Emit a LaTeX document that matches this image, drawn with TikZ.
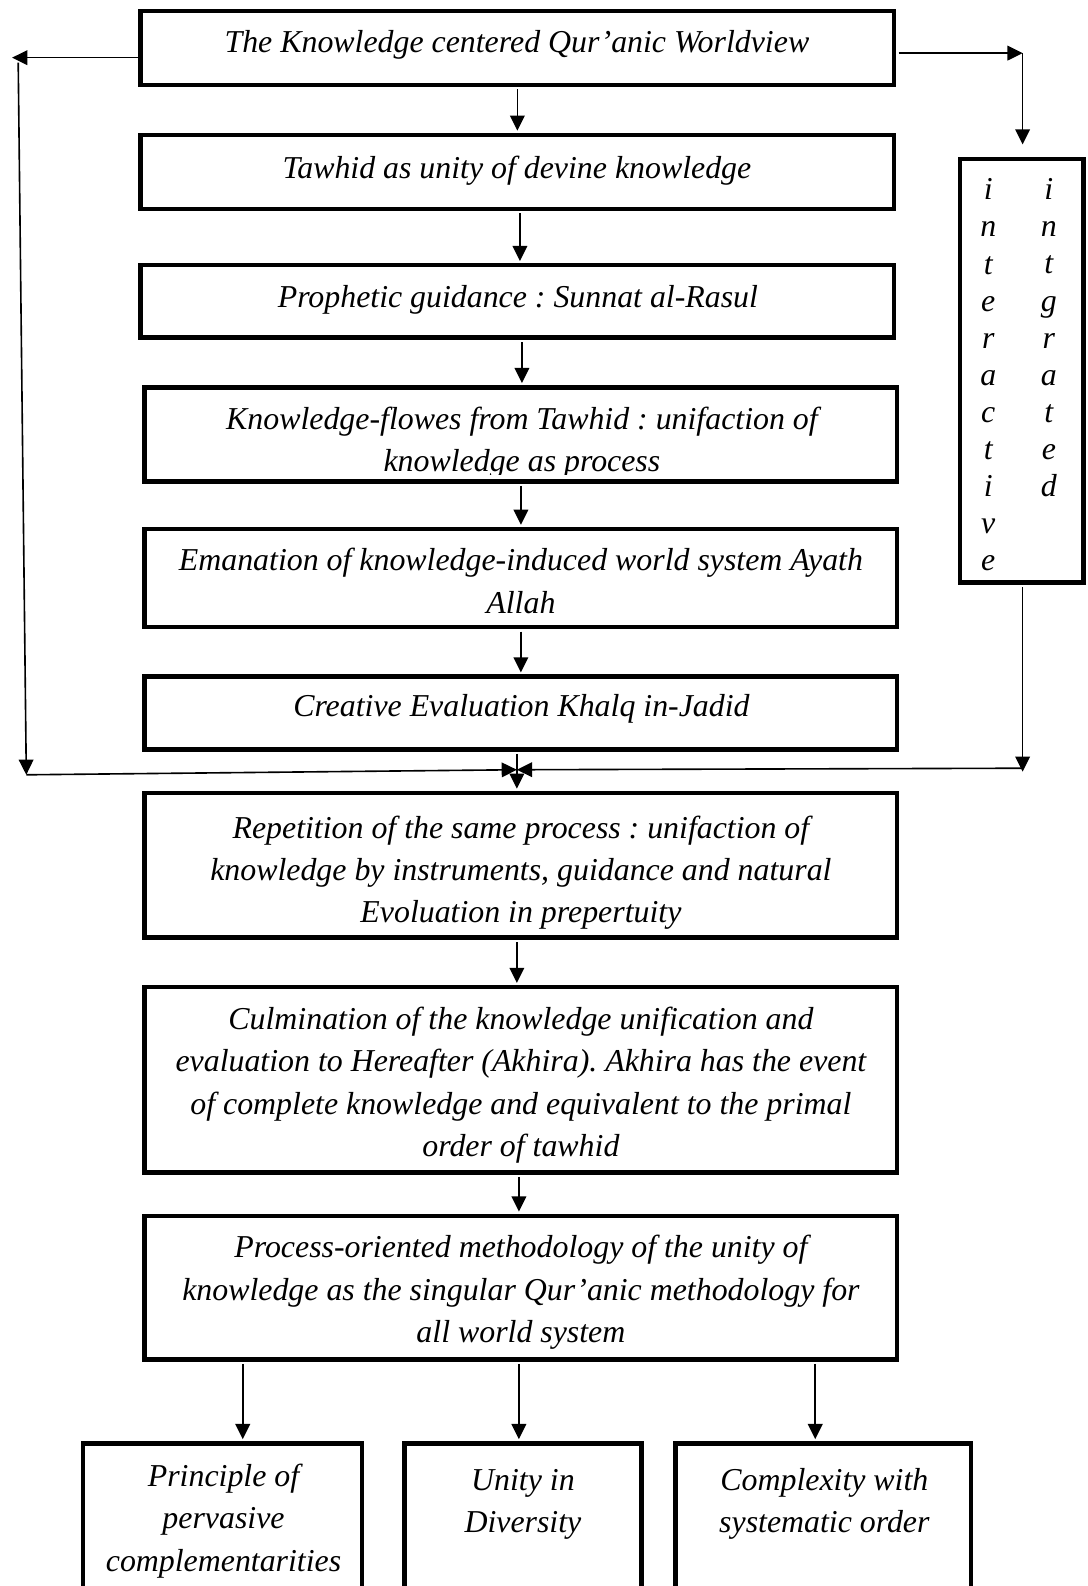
\documentclass[tikz,border=0pt]{standalone}
\usepackage{fontspec}
\setmainfont{Liberation Serif}
\usetikzlibrary{arrows.meta,calc}
\begin{document}
\frenchspacing
\begin{tikzpicture}[x=1pt,y=-1pt,
  box/.style={draw, line width=4.4pt, rectangle, inner sep=0pt},
  txt/.style={align=center, font=\fontsize{31.5}{42}\selectfont\itshape, inner sep=0pt, anchor=base},
  col/.style={align=center, font=\fontsize{31.5}{36.7}\selectfont\itshape, inner sep=0pt, anchor=base},
  arr/.style={line width=1.6pt, -{Triangle[length=15pt,width=14.5pt]}},
  wide/.style={minimum width=744pt}]
\useasboundingbox (0,0) rectangle (1075,1568);
\clip (0,0) rectangle (1075,1568);

% main column of boxes
\node[box, minimum width=745pt, minimum height=73pt]   (b1) at (511.5,47.5) {};
\node[box, minimum width=745pt, minimum height=73pt]   (b2) at (511.5,170) {};
\node[box, minimum width=745pt, minimum height=71.5pt] (b3) at (511.5,298) {};
\node[box, wide, minimum height=93pt]  (b4) at (515,429.5) {};
\node[box, wide, minimum height=97pt]  (b5) at (515,571.5) {};
\node[box, wide, minimum height=72pt]  (b6) at (515,705) {};
\node[box, wide, minimum height=143pt] (b7) at (515,855.5) {};
\node[box, wide, minimum height=183pt] (b8) at (515,1067.5) {};
\node[box, wide, minimum height=142pt] (b9) at (515,1273) {};

% side box and the three result boxes
\node[box, minimum width=122pt, minimum height=419pt] (side) at (1010,366.5) {};
\node[box, minimum width=276pt, minimum height=173pt] (bl) at (220,1513.5) {};
\node[box, minimum width=234pt, minimum height=173pt] (bm) at (517,1513.5) {};
\node[box, minimum width=292pt, minimum height=173pt] (br) at (814,1513.5) {};

% texts (the base anchor sits on the last line)
\node[txt] (t1) at (511,51.5) {The Knowledge centered Qur’anic Worldview};
\node[txt] (t2) at (511,176.5) {Tawhid as unity of devine knowledge};
\node[txt] (t3) at (512,304.5) {Prophetic guidance : Sunnat al-Rasul};
\begin{scope}
  \clip (b4.north west) rectangle ($(b4.south east)+(0,-9)$);
  \node[txt] (t4) at (516,466.5) {Knowledge-flowes from Tawhid : unifaction of\\knowledge as process};
\end{scope}
\node[txt] (t5) at (515,606.5) {Emanation of knowledge-induced world system Ayath\\Allah};
\node[txt] (t6) at (515.5,708.5) {Creative Evaluation Khalq in-Jadid};
\node[txt] (t7) at (515,912.5) {Repetition of the same process : unifaction of\\knowledge by instruments, guidance and natural\\Evoluation in prepertuity};
\node[txt] (t8) at (515,1143.5) {Culmination of the knowledge unification and\\evaluation to Hereafter (Akhira). Akhira has the event\\of complete knowledge and equivalent to the primal\\order of tawhid};
\node[txt] (t9) at (515,1327.5) {Process-oriented methodology of the unity of\\knowledge as the singular Qur’anic methodology for\\all world system};
\node[txt] (tl) at (221,1553.5) {Principle of\\pervasive\\complementarities};
\node[txt] (tm) at (517,1515.5) {Unity in\\Diversity};
\node[txt] (tr) at (815,1515.5) {Complexity with\\systematic order};
\node[col] (sl) at (977,564.5) {i\\n\\t\\e\\r\\a\\c\\t\\i\\v\\e};
\node[col] (sr) at (1037,491) {i\\n\\t\\g\\r\\a\\t\\e\\d};

% main flow
\draw[arr, shorten <=2.2pt, shorten >=2pt] (b1.south) -- (b2.north);
\draw[arr, shorten <=2.2pt, shorten >=2pt] ([xshift=2.5pt]b2.south) -- ([xshift=2.5pt]b3.north);
\draw[arr, shorten <=2.2pt, shorten >=2pt] ([xshift=4.5pt]b3.south) -- ([xshift=1pt]b4.north);
\draw[arr, shorten <=2.2pt, shorten >=2pt] (b4.south) -- (b5.north);
\draw[arr, shorten <=2.2pt, shorten >=2pt] (b5.south) -- (b6.north);
\draw[arr, shorten <=2.2pt, shorten >=2pt] ([xshift=-4pt]b6.south) -- ([xshift=-4pt]b7.north);
\draw[arr, shorten <=2.2pt, shorten >=2pt] ([xshift=-4pt]b7.south) -- ([xshift=-4pt]b8.north);
\draw[arr, shorten <=2.2pt, shorten >=2pt] ([xshift=-2pt]b8.south) -- ([xshift=-2pt]b9.north);

% branches to the three results
\draw[arr, shorten <=2.2pt, shorten >=2pt] ($(b9.south -| bl.north)+(20,0)$) -- ($(bl.north)+(20,0)$);
\draw[arr, shorten <=2.2pt, shorten >=2pt] ($(b9.south -| bm.north)+(-4,0)$) -- ($(bm.north)+(-4,0)$);
\draw[arr, shorten <=2.2pt, shorten >=2pt] ($(b9.south -| br.north)+(-8,0)$) -- ($(br.north)+(-8,0)$);

% left feedback loop
\coordinate (lt) at (12,57);
\coordinate (lv) at (18,62);
\coordinate (lb) at (26,766);
\coordinate (M) at (511,761);
\draw[arr] ([yshift=-9.5pt]b1.west) -- (lt);
\draw[arr] (lv) -- (lb);
\draw[arr] (lb) -- (M);

% right feedback loop through the side box
\coordinate (rc) at (1011,52.5);
\coordinate (rb) at (1011,763);
\draw[arr, shorten <=2.2pt] ([yshift=-5pt]b1.east) -- (rc);
\draw[arr, shorten >=12pt] (rc) -- (side.north -| rc);
\draw[arr, shorten <=2.2pt] (side.south -| rb) -- (rb);
\draw[arr] ([yshift=3.5pt]rb) -- (M);
\end{tikzpicture}
\end{document}
